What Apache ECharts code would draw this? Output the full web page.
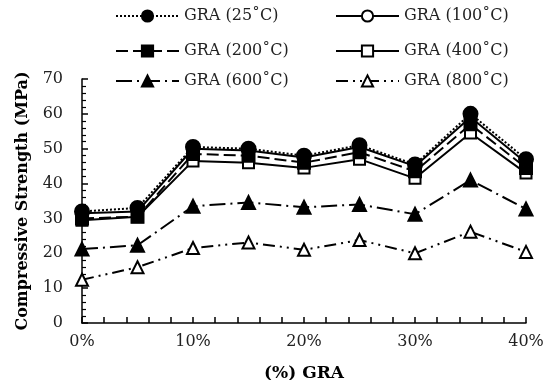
<!DOCTYPE html>
<html><head><meta charset="utf-8">
<script src="https://cdn.jsdelivr.net/npm/echarts@6/dist/echarts.min.js"></script>
<style>html,body{margin:0;padding:0;background:#fff}#c{width:553px;height:380px}</style>
</head><body><div id="c"></div>
<script>
const xValues = [0, 5, 10, 15, 20, 25, 30, 35, 40];
const names = ['GRA (25˚C)', 'GRA (100˚C)', 'GRA (200˚C)', 'GRA (400˚C)', 'GRA (600˚C)', 'GRA (800˚C)'];
const s25  = [32, 33, 50.5, 50, 48, 51, 45.5, 60, 47];
const s100 = [31.5, 32, 50, 49.5, 47.5, 50.5, 45, 59, 46];
const s200 = [30, 30.5, 48.5, 48, 46, 49, 43.5, 57, 44.5];
const s400 = [29.5, 30.5, 46.5, 46, 44.5, 47, 41.5, 54.5, 43];
const s600 = [21.2, 22.3, 33.5, 34.6, 33.2, 34, 31.2, 41, 32.7];
const s800 = [12.4, 16, 21.5, 23.1, 21, 23.8, 20, 26.2, 20.4];
const yTicks = [0, 10, 20, 30, 40, 50, 60, 70];
const xTicks = [0, 10, 20, 30, 40];

const FONT = 'DejaVu Serif';
const chart = echarts.init(document.getElementById('c'), null, {renderer: 'canvas'});
const styles = [
  {data: s25, symbol: 'circle', symbolSize: 14, fill: '#000', type: [2, 2]},
  {data: s100, symbol: 'circle', symbolSize: 8, fill: '#fff', type: 'solid'},
  {data: s200, symbol: 'rect', symbolSize: 12, fill: '#000', type: [12, 5]},
  {data: s400, symbol: 'rect', symbolSize: 11, fill: '#fff', type: 'solid'},
  {data: s600, symbol: 'triangle', symbolSize: 13, fill: '#000', type: [16, 5, 2, 5]},
  {data: s800, symbol: 'triangle', symbolSize: 12, fill: '#fff', type: [12, 5, 2, 5, 2, 5]}
];
const series = styles.map((s, i) => ({
  name: names[i], type: 'line',
  data: s.data.map((v, j) => [xValues[j], v]),
  symbol: s.symbol, symbolSize: s.symbolSize, showSymbol: true,
  lineStyle: {color: '#000', width: 2, type: s.type},
  itemStyle: {color: s.fill, borderColor: '#000', borderWidth: 2},
  z: 10 - i
}));
const legPos = [[115, 8], [335, 8], [115, 43], [335, 43], [115, 73], [335, 73]];
const legend = names.map((n, i) => ({
  data: [n], left: legPos[i][0], top: legPos[i][1], padding: 0,
  itemWidth: 63, itemHeight: 14, itemGap: 0,
  textStyle: {fontFamily: FONT, fontSize: 16, color: '#222'}
}));
chart.setOption({
  animation: false,
  backgroundColor: '#fff',
  legend: legend,
  grid: {left: 82, right: 27, top: 79, bottom: 57, containLabel: false, outerBoundsMode: 'none'},
  xAxis: {
    type: 'value', min: 0, max: 40, interval: 10,
    name: '(%) GRA', nameLocation: 'middle', nameGap: 42,
    nameTextStyle: {fontFamily: FONT, fontSize: 17, fontWeight: 'bold', color: '#000'},
    axisLine: {lineStyle: {color: '#000', width: 1.5}},
    axisTick: {show: true, inside: true, length: 6, lineStyle: {color: '#000', width: 1.5}},
    minorTick: {show: true, splitNumber: 5, length: 6, lineStyle: {color: '#000', width: 1.5}},
    axisLabel: {fontFamily: FONT, fontSize: 16, color: '#222', margin: 11, formatter: v => v + '%'},
    splitLine: {show: false}
  },
  yAxis: {
    type: 'value', min: 0, max: 70, interval: 10,
    name: 'Compressive Strength (MPa)', nameLocation: 'middle', nameGap: 51,
    nameTextStyle: {fontFamily: FONT, fontSize: 16, fontWeight: 'bold', color: '#000'},
    axisLine: {show: true, lineStyle: {color: '#000', width: 1.5}},
    axisTick: {show: true, inside: true, length: 6, lineStyle: {color: '#000', width: 1.5}},
    minorTick: {show: true, splitNumber: 5, length: 4, lineStyle: {color: '#000', width: 1.2}},
    axisLabel: {fontFamily: FONT, fontSize: 16, color: '#222', margin: 19},
    splitLine: {show: false}
  },
  series: series
});
</script></body></html>
